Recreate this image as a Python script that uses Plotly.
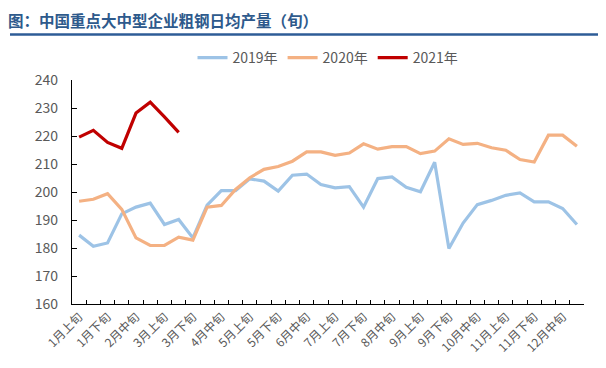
import plotly.graph_objects as go

categories = [f"{m}月{p}旬" for m in range(1, 13) for p in ["上", "中", "下"]]

y2019 = [184.6, 180.6, 181.8, 192.2, 194.6, 196.0, 188.4, 190.2, 183.6, 195.3,
         200.5, 200.5, 204.7, 203.9, 200.3, 206.0, 206.4, 202.7, 201.5, 201.9,
         194.6, 204.8, 205.4, 201.7, 200.1, 210.6, 179.8, 188.9, 195.5, 197.0,
         198.8, 199.7, 196.5, 196.5, 194.1, 188.4]
y2020 = [196.7, 197.4, 199.4, 193.8, 183.6, 180.9, 180.9, 183.9, 182.8, 194.6,
         195.2, 200.9, 205.1, 208.1, 209.1, 211.0, 214.3, 214.3, 213.1, 213.9,
         217.2, 215.3, 216.2, 216.2, 213.7, 214.6, 219.0, 217.0, 217.4, 215.8,
         214.9, 211.6, 210.7, 220.3, 220.3, 216.3]
y2021 = [219.6, 222.0, 217.7, 215.6, 228.2, 232.1, 226.8, 221.3]

series_names = ["2019年", "2020年", "2021年"]
series_colors = ["#9DC3E6", "#F4B183", "#C00000"]

tick_text = [c if i % 2 == 0 else "" for i, c in enumerate(categories)]

FONT = "Microsoft YaHei, Noto Sans CJK SC, sans-serif"

fig = go.Figure()
for name, vals, col in zip(series_names, [y2019, y2020, y2021], series_colors):
    fig.add_trace(go.Scatter(
        x=categories[:len(vals)], y=vals, name=name, mode="lines",
        line=dict(color=col, width=3.2),
    ))

plot_h = 368 - 72 - 72

fig.update_layout(
    width=606, height=368,
    margin=dict(l=64, r=30, t=72, b=72),
    paper_bgcolor="white", plot_bgcolor="white",
    font=dict(family=FONT, color="#595959", size=13),
    showlegend=True,
    legend=dict(orientation="h", x=0.5, xanchor="center",
                y=1 + (72 - 50) / plot_h, yanchor="middle",
                font=dict(size=14, color="#595959"), bgcolor="rgba(0,0,0,0)",
                itemwidth=30),
    title=dict(
        text="<b>图：中国重点大中型企业粗钢日均产量（旬）</b>",
        x=0, xanchor="left", xref="container",
        y=1 - 14 / 368, yanchor="middle", yref="container",
        font=dict(size=15.5, color="#2E5A8C", family=FONT),
    ),
    xaxis=dict(
        type="category", categoryorder="array", categoryarray=categories,
        tickmode="array", tickvals=categories, ticktext=tick_text,
        tickson="boundaries", ticks="inside", ticklen=4, tickcolor="black",
        tickangle=-45, tickfont=dict(size=12, color="#595959", family=FONT),
        showline=True, linecolor="black", linewidth=1.3, showgrid=False,
        range=[-0.5, 35.5], zeroline=False,
    ),
    yaxis=dict(
        range=[160, 240], dtick=10, tick0=160,
        ticks="inside", ticklen=5, tickcolor="black",
        showline=True, linecolor="black", linewidth=1.3, showgrid=False,
        zeroline=False, tickfont=dict(size=14, color="#595959", family=FONT),
        ticklabelstandoff=10,
    ),
)

fig.add_shape(
    type="line", xref="paper", yref="paper",
    x0=-62 / 512, x1=1 + 28 / 512,
    y0=1 + (72 - 26.5) / plot_h, y1=1 + (72 - 26.5) / plot_h,
    line=dict(color="#2E5C97", width=2.5),
)

fig.write_html("out.html")
